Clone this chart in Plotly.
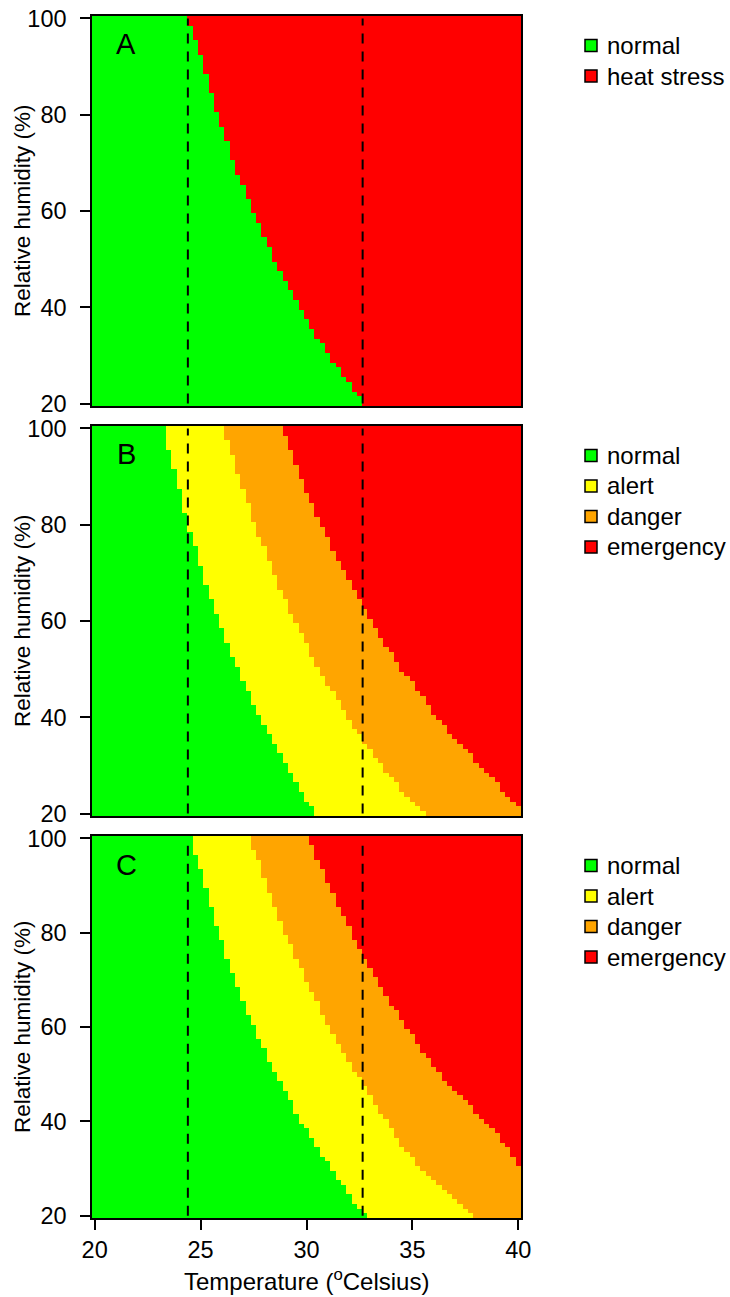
import numpy as np
import plotly.graph_objects as go

W, H = 730, 1297

# ---------------- data ----------------
temperature = np.arange(20, 40.0001, 0.25)          # grid columns (deg C)
humidity = np.arange(20, 101, 1)                     # grid rows (% RH)
humidity_levels = [20, 25, 30, 35, 40, 45, 50, 55, 60, 65, 70, 75, 80, 85, 90, 95, 100]

# boundary temperature (deg C) at each humidity level
A_heat_stress = [32.7, 31.85, 31.05, 30.3, 29.66, 29.04, 28.45, 27.95, 27.47, 27.0,
                 26.57, 26.2, 25.8, 25.45, 25.15, 24.8, 24.35]

B_alert = [30.45, 29.66, 29.05, 28.43, 27.83, 27.27, 26.76, 26.28, 25.88, 25.47,
           25.09, 24.77, 24.43, 24.12, 23.83, 23.54, 23.3]
B_danger = [35.5, 34.45, 33.56, 32.69, 31.93, 31.25, 30.54, 30.03, 29.42, 28.91,
            28.43, 28.02, 27.54, 27.19, 26.81, 26.43, 26.05]
B_emergency = [40.2, 39.22, 38.19, 37.18, 36.1, 35.4, 34.49, 33.72, 33.07, 32.45,
               31.82, 31.22, 30.68, 30.18, 29.72, 29.28, 28.85]

C_alert = [32.75, 31.9, 31.15, 30.41, 29.73, 29.14, 28.56, 28.04, 27.53, 27.04,
           26.62, 26.22, 25.87, 25.52, 25.19, 24.88, 24.55]
C_danger = [37.85, 36.62, 35.43, 34.47, 33.78, 33.06, 32.37, 31.69, 31.1, 30.5,
            29.98, 29.44, 28.97, 28.51, 28.11, 27.76, 27.3]
C_emergency = [42.0, 41.0, 40.05, 39.45, 38.4, 37.35, 36.26, 35.49, 34.7, 33.98,
               33.32, 32.68, 32.12, 31.56, 31.06, 30.61, 30.05]

reference_temps = [24.4, 32.65]                      # dashed vertical lines

labels_A = ["normal", "heat stress"]
labels_BC = ["normal", "alert", "danger", "emergency"]

x_ticks = [20, 25, 30, 35, 40]
y_ticks = [20, 40, 60, 80, 100]

GREEN, YELLOW, ORANGE, RED = "#00FF00", "#FFFF00", "#FFA500", "#FF0000"

panels = [
    dict(letter="A", bounds=[A_heat_stress], labels=labels_A, colors=[GREEN, RED], top=16, bottom=406),
    dict(letter="B", bounds=[B_alert, B_danger, B_emergency], labels=labels_BC,
         colors=[GREEN, YELLOW, ORANGE, RED], top=426, bottom=816),
    dict(letter="C", bounds=[C_alert, C_danger, C_emergency], labels=labels_BC,
         colors=[GREEN, YELLOW, ORANGE, RED], top=836, bottom=1218),
]

FONT = "Liberation Sans, Arial, sans-serif"
PLOT_L, PLOT_R = 92, 521
TICK_FS, YTITLE_FS, XTITLE_FS, LEG_FS, LETTER_FS = 23.5, 22.5, 24, 24, 29


def px_x(p):
    return p / W


def px_y(p):
    return 1 - p / H


fig = go.Figure()
layout = dict(template="none", width=W, height=H, margin=dict(l=0, r=0, t=0, b=0, pad=0),
              paper_bgcolor="white", plot_bgcolor="white", showlegend=False,
              font=dict(family=FONT, size=22, color="black"))
shapes, annotations = [], []

for i, p in enumerate(panels, start=1):
    sfx = "" if i == 1 else str(i)
    # classify every grid cell against the read boundaries
    b = [np.interp(humidity, humidity_levels, bk) for bk in p["bounds"]]
    z = np.zeros((len(humidity), len(temperature)), dtype=int)
    for bk in b:
        z += (temperature[None, :] > bk[:, None]).astype(int)
    n = len(p["colors"])
    cs = []
    for k, c in enumerate(p["colors"]):
        cs.append([k / n, c])
        cs.append([(k + 1) / n, c])
    fig.add_trace(go.Heatmap(x=temperature, y=humidity, z=z, zmin=-0.5, zmax=n - 0.5,
                             colorscale=cs, showscale=False, hoverinfo="skip",
                             xaxis="x" + sfx, yaxis="y" + sfx))
    for t in reference_temps:
        fig.add_trace(go.Scatter(x=[t, t], y=[humidity[0], humidity[-1]], mode="lines",
                                 line=dict(color="black", width=2, dash="10px,8px"),
                                 hoverinfo="skip", xaxis="x" + sfx, yaxis="y" + sfx))
    last = i == len(panels)
    layout["xaxis" + sfx] = dict(
        domain=[px_x(PLOT_L), px_x(PLOT_R)], range=[19.875, 40.125], anchor="y" + sfx,
        automargin=False, showline=True, mirror=True, linecolor="black", linewidth=1.5,
        showgrid=False, zeroline=False, tickvals=x_ticks,
        ticks="outside" if last else "", ticklen=10, tickwidth=1.5, tickcolor="black",
        showticklabels=last, tickfont=dict(size=TICK_FS, family=FONT))
    layout["yaxis" + sfx] = dict(
        domain=[px_y(p["bottom"]), px_y(p["top"])], range=[19.5, 100.5], anchor="x" + sfx,
        automargin=False, showline=True, mirror=True, linecolor="black", linewidth=1.5,
        showgrid=False, zeroline=False, tickvals=y_ticks,
        ticks="outside", ticklen=10, tickwidth=1.5, tickcolor="black",
        ticklabelstandoff=9, tickfont=dict(size=TICK_FS, family=FONT))
    # panel letter
    annotations.append(dict(text=p["letter"], xref="paper", yref="paper",
                            x=px_x(126), y=px_y(p["top"] + 28.5), xanchor="center", yanchor="middle",
                            showarrow=False, font=dict(size=LETTER_FS, family=FONT)))
    # y axis title
    annotations.append(dict(text="Relative humidity (%)", xref="paper", yref="paper",
                            x=px_x(22), y=px_y((p["top"] + p["bottom"]) / 2), textangle=-90,
                            xanchor="center", yanchor="middle", showarrow=False,
                            font=dict(size=YTITLE_FS, family=FONT)))
    # legend
    for k, (lab, col) in enumerate(zip(p["labels"], p["colors"])):
        yc = p["top"] + 29.5 + 30.5 * k
        shapes.append(dict(type="rect", xref="paper", yref="paper",
                           x0=px_x(585), x1=px_x(597), y0=px_y(yc + 6), y1=px_y(yc - 6),
                           fillcolor=col, line=dict(color="black", width=1.5)))
        annotations.append(dict(text=lab, xref="paper", yref="paper", x=px_x(605), y=px_y(yc),
                                xanchor="left", yanchor="middle", showarrow=False,
                                font=dict(size=LEG_FS, family=FONT)))

annotations.append(dict(text="Temperature (<sup>o</sup>Celsius)", xref="paper", yref="paper",
                        x=px_x(306), y=px_y(1280), xanchor="center", yanchor="middle",
                        showarrow=False, font=dict(size=XTITLE_FS, family=FONT)))

layout["shapes"] = shapes
layout["annotations"] = annotations
fig.update_layout(**layout)
fig.write_html("out.html", config={"displayModeBar": False},
               post_script="document.body.style.margin='0';document.body.style.overflow='hidden';")
